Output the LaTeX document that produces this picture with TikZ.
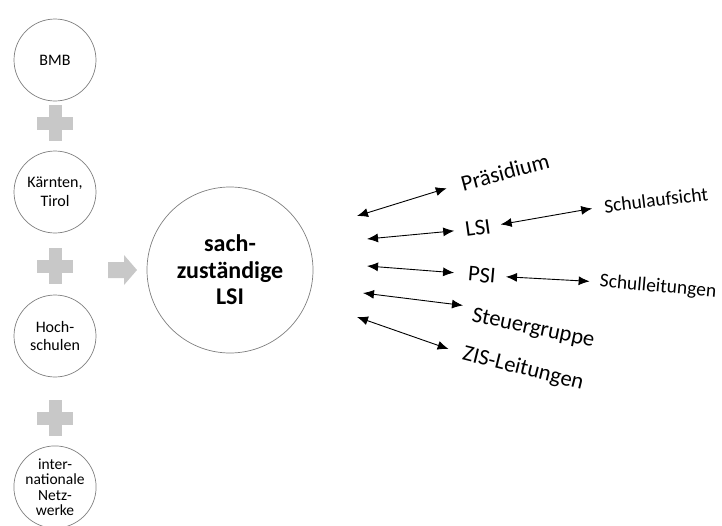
\documentclass[tikz,border=0pt]{standalone}
\usepackage{fontspec}
\setmainfont{Carlito}
\usetikzlibrary{%
  arrows.meta,%
  calc%
}
\tikzset{>={Latex[length=11pt,width=9pt]}}
\definecolor{rimgray}{HTML}{808080}
\definecolor{signgray}{HTML}{C8C8C8}

\tikzset{
  partner/.style={circle, draw=rimgray, line width=0.7pt, minimum size=82pt,
    inner sep=0pt, align=center, font=\fontsize{16}{18.5}\selectfont},
  centre/.style={circle, draw=rimgray, line width=0.7pt, minimum size=166pt,
    inner sep=0pt, align=center, font=\fontsize{24}{26.5}\selectfont\bfseries},
  lbl/.style={inner sep=0pt, font=\fontsize{22.5}{24}\selectfont},
  sublbl/.style={inner sep=0pt, font=\fontsize{19.5}{20}\selectfont},
  link/.style={<->, line width=0.9pt}
}
\newcommand{\plusmark}[2]{%
  \fill[signgray] (#1-18,#2-6.5) rectangle (#1+18,#2+6.5);
  \fill[signgray] (#1-6.5,#2-18) rectangle (#1+6.5,#2+18);}

\begin{document}
\begin{tikzpicture}[x=1pt,y=-1pt]
  \useasboundingbox[fill=white] (0,0) rectangle (722,525);

  % partners on the left
  \node[partner] (bmb) at (55,60) {BMB};
  \node[partner] (kaernten) at (55,192) {Kärnten,\\Tirol};
  \node[partner] (hoch) at (55,336) {Hoch-\\schulen};
  \node[partner, font=\fontsize{15.5}{15.5}\selectfont] (intern) at (55,487)
    {inter-\\nationale\\Netz-\\werke};
  \plusmark{55}{123}
  \plusmark{55}{266}
  \plusmark{55}{418}

  % gray arrow into the centre
  \fill[signgray] (108,262) -- (124,262) -- (124,255) -- (137,270)
    -- (124,285) -- (124,278) -- (108,278) -- cycle;

  \node[centre] (lsi) at (230,270) {sach-\\zuständige\\LSI};

  % partners of the LSI
  \node[lbl, rotate=15] (praes) at (505,172) {Präsidium};
  \node[lbl, rotate=8] (lsib) at (478,228) {LSI};
  \node[lbl, rotate=-5] (psi) at (482,275) {PSI};
  \node[lbl, rotate=-12] (steuer) at (533,329) {Steuergruppe};
  \node[lbl, rotate=-14] (zis) at (523,369) {ZIS-Leitungen};
  \node[sublbl, rotate=7] (aufsicht) at (656,200) {Schulaufsicht};
  \node[sublbl, rotate=-5] (leitung) at (658,287) {Schulleitungen};

  \coordinate (a1) at (357,216);
  \coordinate (a2) at (367,239);
  \coordinate (a3) at (367,266);
  \coordinate (a4) at (363,293);
  \coordinate (a5) at (357,317);

  \draw[link, shorten >=15pt] (a1) -- (praes.west);
  \draw[link, shorten >=11pt] (a2) -- (lsib.west);
  \draw[link, shorten >=14pt] (a3) -- (psi.west);
  \draw[link, shorten >=11pt] (a4) -- (steuer.north west);
  \draw[link, shorten >=15pt] (a5) -- (zis.west);
  \draw[link, shorten <=10pt, shorten >=12pt] (lsib.east) -- (aufsicht.west);
  \draw[link, shorten <=10pt, shorten >=10pt] (psi.east) -- (leitung.west);
\end{tikzpicture}
\end{document}
